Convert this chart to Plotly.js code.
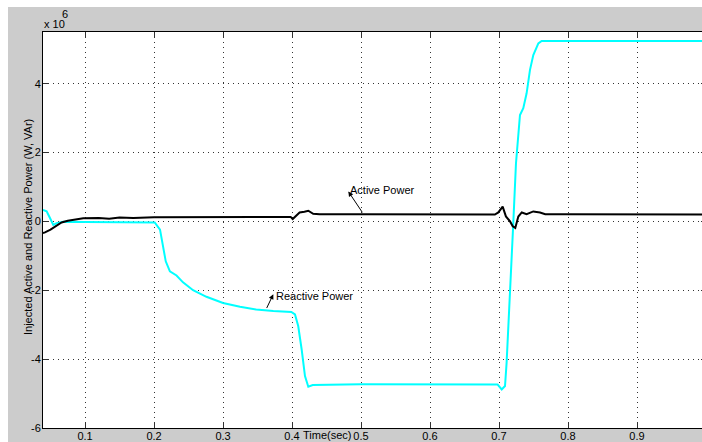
<!DOCTYPE html>
<html>
<head>
<meta charset="utf-8">
<script src="https://cdn.plot.ly/plotly-3.0.1.min.js"></script>
<style>
html,body{margin:0;padding:0;background:#ffffff;overflow:hidden;width:702px;height:442px;}
#chart{position:absolute;left:8px;top:7px;width:702px;height:435px;}
</style>
</head>
<body>
<div id="chart"></div>
<script>
// Time (s)
const activeTime = [0.039, 0.042, 0.05, 0.058, 0.066, 0.075, 0.083, 0.0975, 0.12, 0.135, 0.15, 0.17, 0.2, 0.25, 0.3, 0.35, 0.398, 0.401, 0.405, 0.411, 0.418, 0.4236, 0.4307, 0.44, 0.5, 0.6, 0.694, 0.699, 0.7053, 0.710, 0.716, 0.7199, 0.7236, 0.728, 0.733, 0.740, 0.7497, 0.7594, 0.767, 0.8, 0.9, 1.0];
// Active power (x 10^6 W)
const activePower = [-0.34, -0.32, -0.24, -0.14, -0.03, 0.02, 0.05, 0.09, 0.10, 0.08, 0.11, 0.10, 0.12, 0.12, 0.13, 0.13, 0.13, 0.07, 0.15, 0.26, 0.28, 0.31, 0.22, 0.21, 0.21, 0.21, 0.20, 0.26, 0.43, 0.145, 0.0, -0.14, -0.19, 0.14, 0.26, 0.21, 0.29, 0.26, 0.21, 0.21, 0.20, 0.20];

const reactiveTime = [0.039, 0.0444, 0.0492, 0.054, 0.0589, 0.0685, 0.1, 0.15, 0.198, 0.201, 0.2087, 0.2135, 0.217, 0.223, 0.2326, 0.242, 0.2566, 0.276, 0.300, 0.3246, 0.348, 0.3729, 0.399, 0.4043, 0.409, 0.414, 0.4188, 0.4236, 0.43, 0.5, 0.6, 0.698, 0.7039, 0.7087, 0.711, 0.716, 0.7207, 0.7246, 0.728, 0.7304, 0.7352, 0.740, 0.7449, 0.7497, 0.757, 0.7618, 0.8, 0.9, 1.0];
// Reactive power (x 10^6 VAr)
const reactivePower = [0.33, 0.29, 0.10, -0.10, -0.05, -0.01, -0.02, -0.02, -0.02, -0.03, -0.24, -0.72, -1.16, -1.45, -1.57, -1.77, -2.00, -2.19, -2.37, -2.48, -2.56, -2.60, -2.63, -2.70, -3.04, -3.72, -4.49, -4.80, -4.75, -4.73, -4.74, -4.74, -4.88, -4.78, -4.11, -2.17, -0.05, 1.69, 2.66, 3.09, 3.29, 3.72, 4.40, 4.83, 5.17, 5.24, 5.24, 5.24, 5.24];

const xTicks = [0.1, 0.2, 0.3, 0.4, 0.5, 0.6, 0.7, 0.8, 0.9];
const yTicks = [-6, -4, -2, 0, 2, 4];

const FONT = 'Liberation Sans, Arial, Helvetica, sans-serif';

const traces = [
  {x: reactiveTime, y: reactivePower, type: 'scatter', mode: 'lines', name: 'Reactive Power',
   line: {color: '#00ffff', width: 2}},
  {x: activeTime, y: activePower, type: 'scatter', mode: 'lines', name: 'Active Power',
   line: {color: '#000000', width: 2}}
];

const axisCommon = {
  showline: true, linecolor: '#000000', linewidth: 1, mirror: 'ticks',
  ticks: 'inside', ticklen: 5, tickcolor: '#333333', tickwidth: 1,
  showgrid: true, gridcolor: '#333333', griddash: '1px,4px', gridwidth: 1,
  zeroline: false, tickfont: {family: FONT, size: 11, color: '#000000'},
  automargin: false
};

const layout = {
  width: 702, height: 435,
  margin: {l: 35, r: 4, t: 25, b: 14},
  paper_bgcolor: '#cccccc', plot_bgcolor: '#ffffff',
  showlegend: false,
  font: {family: FONT, size: 11, color: '#000000'},
  xaxis: Object.assign({}, axisCommon, {range: [0.0391, 1.0], tickmode: 'array', tickvals: xTicks, ticktext: xTicks.map(String), ticklabelstandoff: -2}),
  yaxis: Object.assign({}, axisCommon, {range: [-6, 5.5], tickmode: 'array', tickvals: yTicks, ticktext: yTicks.map(String), ticklabelstandoff: -1}),
  annotations: [
    {xref: 'paper', yref: 'paper', x: 0, y: 1, xanchor: 'left', yanchor: 'middle', xshift: -1, yshift: 8,
     text: 'x 10', showarrow: false, font: {family: FONT, size: 11}},
    {xref: 'paper', yref: 'paper', x: 0, y: 1, xanchor: 'left', yanchor: 'middle', xshift: 17, yshift: 18,
     text: '6', showarrow: false, font: {family: FONT, size: 11}},
    {xref: 'paper', yref: 'paper', x: 0, y: 0.5, xanchor: 'center', yanchor: 'middle', xshift: -15, yshift: 3,
     text: 'Injected Active and Reactive Power (W, VAr)', textangle: -90, showarrow: false, font: {family: FONT, size: 11}},
    {xref: 'x', yref: 'paper', x: 0.4507, y: 0, xanchor: 'center', yanchor: 'middle', yshift: -7,
     text: 'Time(sec)', showarrow: false, font: {family: FONT, size: 11}},
    // Active power label + arrow
    {xref: 'x', yref: 'y', x: 0.4816, y: 0.87, axref: 'x', ayref: 'y', ax: 0.5033, ay: 0.22,
     text: '', showarrow: true, arrowhead: 2, arrowsize: 1, arrowwidth: 1, arrowcolor: '#000000', standoff: 0, startstandoff: 0},
    {xref: 'x', yref: 'y', x: 0.4816, y: 0.9, xanchor: 'left', yanchor: 'middle',
     text: 'Active Power', showarrow: false, font: {family: FONT, size: 11}},
    // Reactive power label + arrow
    {xref: 'x', yref: 'y', x: 0.3729, y: -2.116, axref: 'x', ayref: 'y', ax: 0.3623, ay: -2.56,
     text: '', showarrow: true, arrowhead: 2, arrowsize: 1, arrowwidth: 1, arrowcolor: '#000000', standoff: 0, startstandoff: 0},
    {xref: 'x', yref: 'y', x: 0.3745, y: -2.17, xanchor: 'left', yanchor: 'middle',
     text: 'Reactive Power', showarrow: false, font: {family: FONT, size: 11}}
  ]
};

Plotly.newPlot('chart', traces, layout, {displayModeBar: false, staticPlot: true});
</script>
</body>
</html>
